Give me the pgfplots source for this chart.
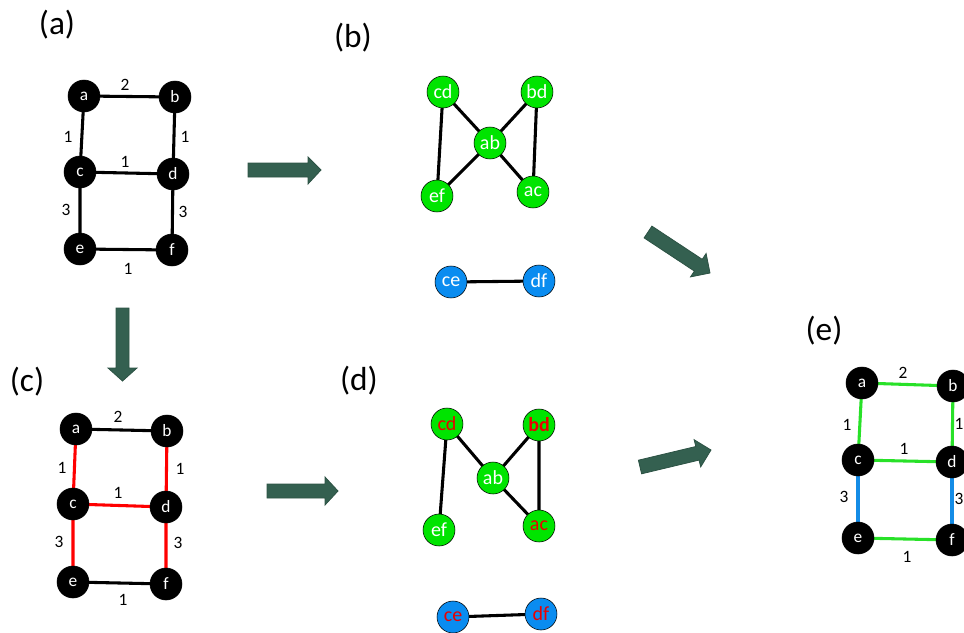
\documentclass[border=0pt]{standalone}
\usepackage{pgfplots}
\pgfplotsset{compat=1.18}
\usepackage{fontspec}
\setmainfont{Carlito}
\definecolor{arrowc}{RGB}{52,96,80}
\definecolor{ngreen}{RGB}{0,228,0}
\definecolor{nblue}{RGB}{10,140,240}
\definecolor{egreen}{RGB}{40,225,40}
\definecolor{eblue}{RGB}{20,140,230}
\definecolor{tred}{RGB}{235,0,0}
\pgfplotsset{
  lbl/.style={only marks, mark=*, mark size=0pt, mark options={draw=none,fill=none},
    point meta=explicit symbolic, nodes near coords, nodes near coords align=center,
    every node near coord/.append style={anchor=center, inner sep=0pt, #1}},
  vert/.style 2 args={only marks, mark=*, mark size=12pt, mark options={draw=none, fill=#1},
    point meta=explicit symbolic, nodes near coords, nodes near coords align=center,
    every node near coord/.append style={anchor=center, inner sep=0pt, text=#2}},
  edge/.style={line width=2.3pt, #1},
  arr/.style={fill=arrowc, draw=arrowc!85!black, line width=0.6pt},
}
\begin{document}
\begin{tikzpicture}
\useasboundingbox (0,0) rectangle (723pt,474pt);
\clip (0,0) rectangle (723pt,474pt);
\begin{axis}[at={(0,0)}, anchor=south west, scale only axis, width=723pt, height=474pt,
  xmin=0, xmax=964, ymin=0, ymax=632, y dir=reverse, hide axis, clip=false,
  unbounded coords=jump]

% ---------- arrows ----------
\addplot[arr] coordinates {(248,163)(308,163)(308,157)(321,170)(308,184)(308,177)(248,177)} -- cycle;
\addplot[arr] coordinates {(267,484)(325,484)(325,477)(338,491)(325,505)(325,498)(267,498)} -- cycle;
\addplot[arr] coordinates {(116,308)(116,368)(108,368)(122.5,381)(137,368)(129,368)(129,308)} -- cycle;
\addplot[arr] coordinates {(651.9,226.1)(702.2,259.3)(706.1,253.5)(710,273)(690.5,276.9)(694.4,271.1)(644.1,237.9)} -- cycle;
\addplot[arr] coordinates {(638.4,460.2)(695.8,446.5)(694.1,439.7)(711,450)(700.7,466.9)(699.0,460.1)(641.6,473.8)} -- cycle;

% ---------- panel (a) ----------
\addplot[edge=black] coordinates {(84,96)(175,97)(nan,nan)(84,96)(80,172)(nan,nan)(175,97)(173,174)(nan,nan)
  (80,172)(173,174)(nan,nan)(80,172)(80,249)(nan,nan)(173,174)(172,250)(nan,nan)(80,249)(172,250)};
\addplot[vert={black}{white}, every node near coord/.append style={font=\fontsize{13}{13}\selectfont}] table[meta=l] {
x y l
84 96 a
175 97 b
80 172 c
173 174 d
80 249 e
172 250 f
};
\addplot[lbl={font=\fontsize{13}{13}\selectfont}] table[meta=l] {
x y l
125 85 2
68 137 1
185 137 1
125 162 1
66 210 3
183 212 3
128 269 1
};

% ---------- panel (c) ----------
\addplot[edge=black] coordinates {(76,429)(167,431)(nan,nan)(73,582)(166,584)};
\addplot[edge=red] coordinates {(76,429)(73,504)(nan,nan)(167,431)(166,507)(nan,nan)(73,504)(166,507)(nan,nan)
  (73,504)(73,582)(nan,nan)(166,507)(166,584)};
\addplot[vert={black}{white}, every node near coord/.append style={font=\fontsize{13}{13}\selectfont}] table[meta=l] {
x y l
76 429 a
167 431 b
73 504 c
166 507 d
73 582 e
166 584 f
};
\addplot[lbl={font=\fontsize{13}{13}\selectfont}] table[meta=l] {
x y l
118 417 2
62 468 1
180 469 1
118 493 1
59 542 3
178 543 3
123 600 1
};

% ---------- panel (e) ----------
\addplot[edge=egreen] coordinates {(862,383)(953,386)(nan,nan)(862,383)(858,460)(nan,nan)(953,386)(952,462)(nan,nan)
  (858,460)(952,462)(nan,nan)(858,538)(952,540)};
\addplot[edge=eblue] coordinates {(858,460)(858,538)(nan,nan)(952,462)(952,540)};
\addplot[vert={black}{white}, every node near coord/.append style={font=\fontsize{13}{13}\selectfont}] table[meta=l] {
x y l
862 383 a
953 386 b
858 460 c
952 462 d
858 538 e
952 540 f
};
\addplot[lbl={font=\fontsize{13}{13}\selectfont}] table[meta=l] {
x y l
903 373 2
847 425 1
959 424 1
904 449 1
844 497 3
959 499 3
907 557 1
};

% ---------- panel (b) ----------
\addplot[edge=black] coordinates {(443,92)(437,196)(nan,nan)(443,92)(490,143)(nan,nan)(537,92)(490,143)(nan,nan)
  (537,92)(533,192)(nan,nan)(490,143)(437,196)(nan,nan)(490,143)(533,192)(nan,nan)(451,282)(539,281)};
\addplot[vert={ngreen}{white}, every node near coord/.append style={font=\fontsize{15}{15}\selectfont}] table[meta=l] {
x y l
443 92 cd
537 92 bd
490 143 ab
437 196 ef
533 192 ac
};
\addplot[vert={nblue}{white}, every node near coord/.append style={font=\fontsize{15}{15}\selectfont}] table[meta=l] {
x y l
451 282 ce
539 281 df
};

% ---------- panel (d) ----------
\addplot[edge=black] coordinates {(447,424)(439,530)(nan,nan)(447,424)(493,478)(nan,nan)(539,425)(493,478)(nan,nan)
  (539,425)(539,526)(nan,nan)(493,478)(539,526)(nan,nan)(453,617)(541,614)};
\addplot[vert={ngreen}{white}, every node near coord/.append style={font=\fontsize{15}{15}\selectfont}] table[meta=l] {
x y l
493 478 ab
439 530 ef
};
\addplot[vert={ngreen}{tred}, every node near coord/.append style={font=\fontsize{15}{15}\selectfont}] table[meta=l] {
x y l
447 424 cd
539 526 ac
};
\addplot[vert={ngreen}{tred}, every node near coord/.append style={font=\bfseries\fontsize{15}{15}\selectfont}] table[meta=l] {
x y l
539 425 bd
};
\addplot[vert={nblue}{tred}, every node near coord/.append style={font=\fontsize{15}{15}\selectfont}] table[meta=l] {
x y l
453 617 ce
541 614 df
};

% ---------- panel titles ----------
\addplot[lbl={font=\fontsize{25}{25}\selectfont}] table[meta=l] {
x y l
57 25 (a)
353 38 (b)
27 382 (c)
359 381 (d)
824 331 (e)
};
\end{axis}
\end{tikzpicture}
\end{document}
